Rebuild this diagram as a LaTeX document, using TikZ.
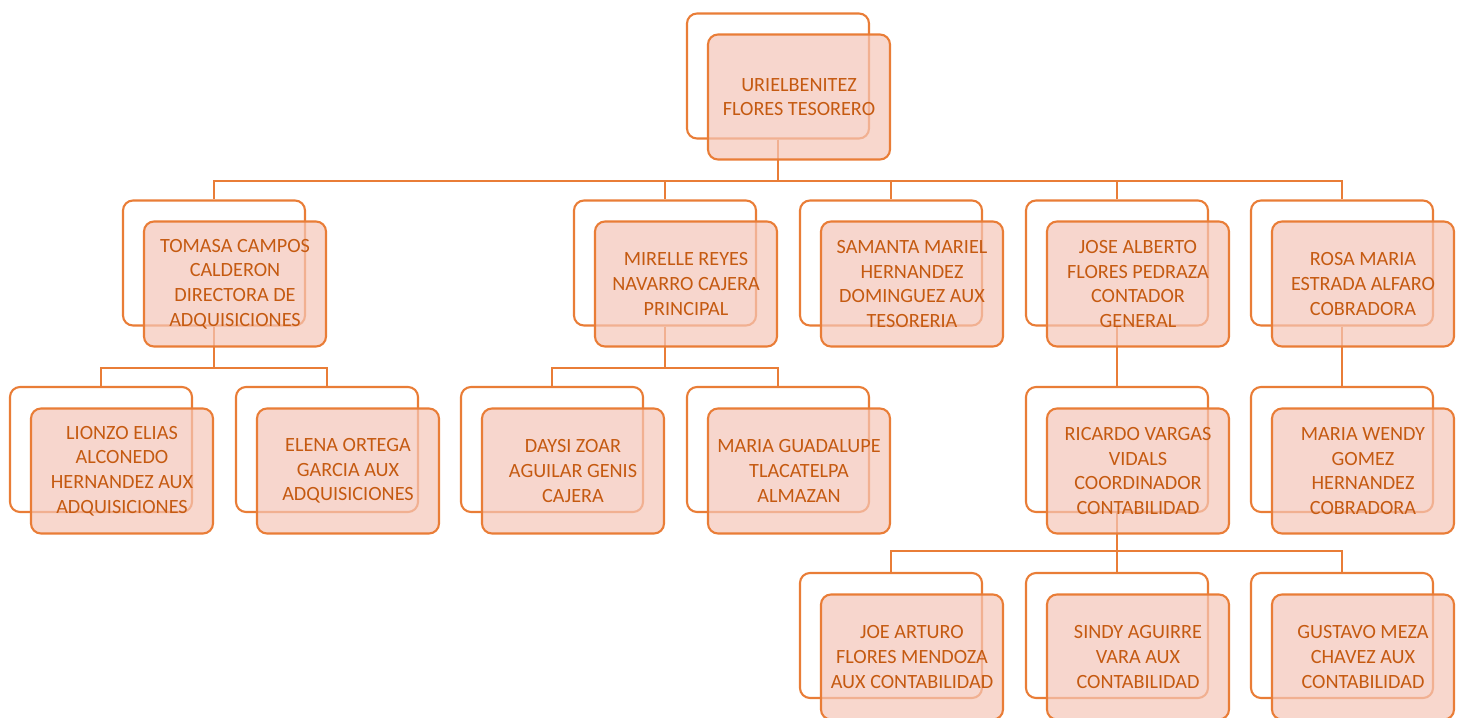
\documentclass[tikz,border=0pt]{standalone}
\usepackage{fontspec}
\setmainfont{Carlito}
\definecolor{orgline}{RGB}{233,125,55}
\definecolor{orgfill}{RGB}{245,198,184}
\definecolor{orgtext}{RGB}{197,90,17}
\tikzset{
	backbox/.style={draw=orgline, line width=1.2pt, rounded corners=0.2cm, fill=white, minimum width=3.64cm, minimum height=2.5cm},
	frontbox/.style={draw=orgline, line width=1.2pt, rounded corners=0.2cm, fill=orgfill, fill opacity=0.7, text opacity=1, text=orgtext, minimum width=3.64cm, minimum height=2.5cm, align=center, font=\fontsize{11.5}{14}\selectfont},
	link/.style={draw=orgline, line width=1.2pt}
}

\begin{document}
\begin{tikzpicture}
	\useasboundingbox (0,0) rectangle (29.2,-14.34);
	% back boxes
	\node[backbox] (uriel) at (15.56, -1.52) {};
	\node[backbox] (tomasa) at (4.28, -5.26) {};
	\node[backbox] (mirelle) at (13.30, -5.26) {};
	\node[backbox] (samanta) at (17.82, -5.26) {};
	\node[backbox] (jose) at (22.34, -5.26) {};
	\node[backbox] (rosa) at (26.84, -5.26) {};
	\node[backbox] (lionzo) at (2.02, -8.99) {};
	\node[backbox] (elena) at (6.54, -8.99) {};
	\node[backbox] (daysi) at (11.04, -8.99) {};
	\node[backbox] (mariag) at (15.56, -8.99) {};
	\node[backbox] (ricardo) at (22.34, -8.99) {};
	\node[backbox] (wendy) at (26.84, -8.99) {};
	\node[backbox] (joe) at (17.82, -12.71) {};
	\node[backbox] (sindy) at (22.34, -12.71) {};
	\node[backbox] (gustavo) at (26.84, -12.71) {};
	\coordinate (bus1) at (0, -3.62);
	\coordinate (bus2) at (0, -7.36);
	\coordinate (bus3) at (0, -11.02);
	% connectors
	\draw[link] (uriel.south) |- (bus1 -| tomasa.north) -- (tomasa.north);
	\draw[link] (uriel.south) |- (bus1 -| mirelle.north) -- (mirelle.north);
	\draw[link] (uriel.south) |- (bus1 -| samanta.north) -- (samanta.north);
	\draw[link] (uriel.south) |- (bus1 -| jose.north) -- (jose.north);
	\draw[link] (uriel.south) |- (bus1 -| rosa.north) -- (rosa.north);
	\draw[link] (tomasa.south) |- (bus2 -| lionzo.north) -- (lionzo.north);
	\draw[link] (tomasa.south) |- (bus2 -| elena.north) -- (elena.north);
	\draw[link] (mirelle.south) |- (bus2 -| daysi.north) -- (daysi.north);
	\draw[link] (mirelle.south) |- (bus2 -| mariag.north) -- (mariag.north);
	\draw[link] (jose.south) -- (ricardo.north);
	\draw[link] (rosa.south) -- (wendy.north);
	\draw[link] (ricardo.south) |- (bus3 -| joe.north) -- (joe.north);
	\draw[link] (ricardo.south) |- (bus3 -| sindy.north) -- (sindy.north);
	\draw[link] (ricardo.south) |- (bus3 -| gustavo.north) -- (gustavo.north);
	% front boxes
	\node[frontbox] (uriel-f) at (15.98, -1.94) {URIELBENITEZ\\FLORES TESORERO};
	\node[frontbox] (tomasa-f) at (4.70, -5.68) {TOMASA CAMPOS\\CALDERON\\DIRECTORA DE\\ADQUISICIONES};
	\node[frontbox] (mirelle-f) at (13.72, -5.68) {MIRELLE REYES\\NAVARRO CAJERA\\PRINCIPAL};
	\node[frontbox] (samanta-f) at (18.24, -5.68) {SAMANTA MARIEL\\HERNANDEZ\\DOMINGUEZ AUX\\TESORERIA};
	\node[frontbox] (jose-f) at (22.76, -5.68) {JOSE ALBERTO\\FLORES PEDRAZA\\CONTADOR\\GENERAL};
	\node[frontbox] (rosa-f) at (27.26, -5.68) {ROSA MARIA\\ESTRADA ALFARO\\COBRADORA};
	\node[frontbox] (lionzo-f) at (2.44, -9.42) {LIONZO ELIAS\\ALCONEDO\\HERNANDEZ AUX\\ADQUISICIONES};
	\node[frontbox] (elena-f) at (6.96, -9.42) {ELENA ORTEGA\\GARCIA AUX\\ADQUISICIONES};
	\node[frontbox] (daysi-f) at (11.46, -9.42) {DAYSI ZOAR\\AGUILAR GENIS\\CAJERA};
	\node[frontbox] (mariag-f) at (15.98, -9.42) {MARIA GUADALUPE\\TLACATELPA\\ALMAZAN};
	\node[frontbox] (ricardo-f) at (22.76, -9.42) {RICARDO VARGAS\\VIDALS\\COORDINADOR\\CONTABILIDAD};
	\node[frontbox] (wendy-f) at (27.26, -9.42) {MARIA WENDY\\GOMEZ\\HERNANDEZ\\COBRADORA};
	\node[frontbox] (joe-f) at (18.24, -13.14) {JOE ARTURO\\FLORES MENDOZA\\AUX CONTABILIDAD};
	\node[frontbox] (sindy-f) at (22.76, -13.14) {SINDY AGUIRRE\\VARA AUX\\CONTABILIDAD};
	\node[frontbox] (gustavo-f) at (27.26, -13.14) {GUSTAVO MEZA\\CHAVEZ AUX\\CONTABILIDAD};
\end{tikzpicture}
\end{document}
